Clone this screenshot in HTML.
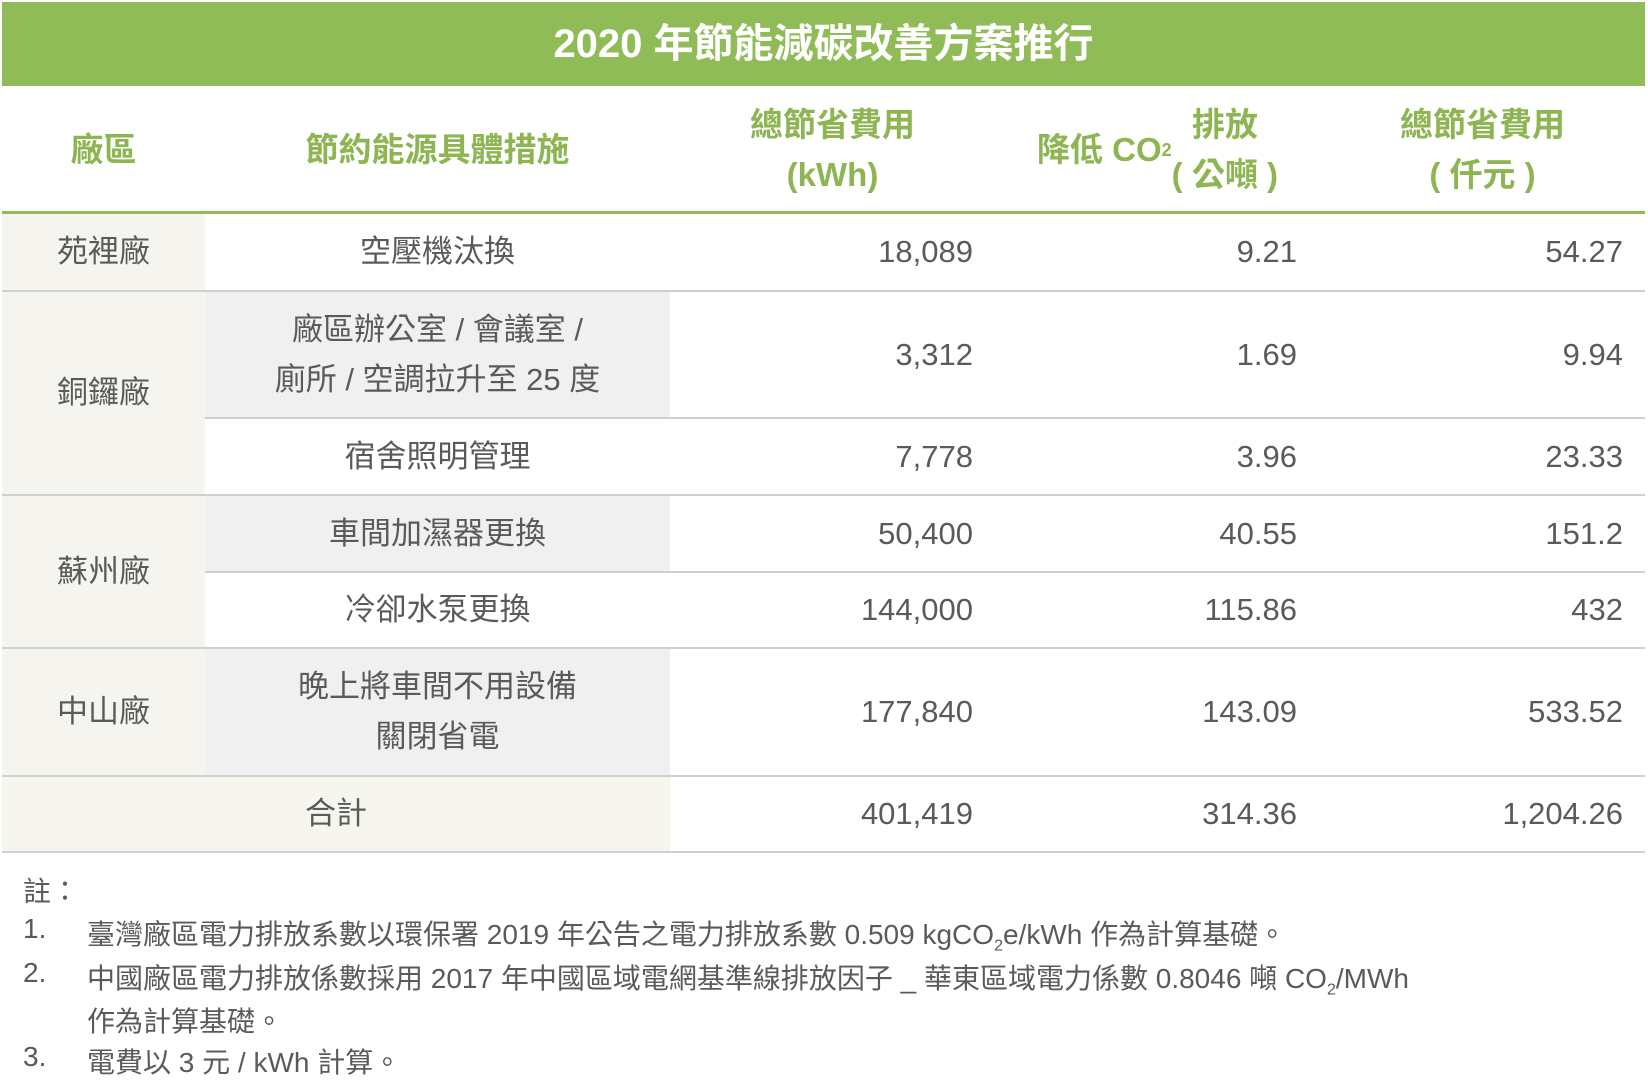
<!DOCTYPE html>
<html><head><meta charset="utf-8"><style>
body{margin:0;width:1648px;height:1086px;background:#fff;position:relative;overflow:hidden;font-family:"Liberation Sans","Noto Sans CJK TC",sans-serif;color:#5a5a5a}
.a{position:absolute}
.t{position:absolute;display:flex;align-items:center;justify-content:center;text-align:center;font-size:31px;line-height:50px}
.n{position:absolute;display:flex;align-items:center;justify-content:flex-end;font-size:31px}
.h{color:#8db552;font-weight:bold;font-size:33px;line-height:50px}
.l{position:absolute;height:2px;background:#d0d0d0}
.note{position:absolute;font-size:28px;white-space:nowrap}
</style></head><body>
<div class="a" style="left:2px;top:2px;width:1643px;height:84px;background:#8fbc56"></div>
<div class="t" style="left:2px;top:2px;width:1643px;height:84px;color:#fff;font-weight:bold;font-size:40px">2020 年節能減碳改善方案推行</div>

<div class="t h" style="left:2px;top:86px;width:203px;height:127px">廠區</div>
<div class="t h" style="left:205px;top:86px;width:465px;height:127px">節約能源具體措施</div>
<div class="t h" style="left:670px;top:86px;width:325px;height:127px">總節省費用<br>(kWh)</div>
<div class="t h" style="left:995px;top:86px;width:325px;height:127px">降低 CO<sub style="font-size:18px">2</sub> 排放<br>( 公噸 )</div>
<div class="t h" style="left:1320px;top:86px;width:325px;height:127px">總節省費用<br>( 仟元 )</div>
<div class="a" style="left:2px;top:211px;width:1643px;height:3px;background:#8fbc56"></div>

<!-- backgrounds -->
<div class="a" style="left:2px;top:214px;width:203px;height:562px;background:#f5f4ee"></div>
<div class="a" style="left:205px;top:292px;width:465px;height:126px;background:#f0f0f0"></div>
<div class="a" style="left:205px;top:496px;width:465px;height:76px;background:#f0f0f0"></div>
<div class="a" style="left:205px;top:649px;width:465px;height:127px;background:#f0f0f0"></div>
<div class="a" style="left:2px;top:777px;width:668px;height:75px;background:#f6f5ee"></div>

<div class="l" style="left:2px;top:290px;width:1643px"></div>
<div class="l" style="left:205px;top:417px;width:1440px"></div>
<div class="l" style="left:2px;top:494px;width:1643px"></div>
<div class="l" style="left:205px;top:571px;width:1440px"></div>
<div class="l" style="left:2px;top:647px;width:1643px"></div>
<div class="l" style="left:2px;top:775px;width:1643px"></div>
<div class="l" style="left:2px;top:851px;width:1643px"></div>

<div class="t" style="left:2px;top:214px;width:203px;height:76px">苑裡廠</div>
<div class="t" style="left:2px;top:292px;width:203px;height:202px">銅鑼廠</div>
<div class="t" style="left:2px;top:496px;width:203px;height:151px">蘇州廠</div>
<div class="t" style="left:2px;top:649px;width:203px;height:126px">中山廠</div>

<div class="t" style="left:205px;top:214px;width:465px;height:76px">空壓機汰換</div>
<div class="t" style="left:205px;top:292px;width:465px;height:125px">廠區辦公室 / 會議室 /<br>廁所 / 空調拉升至 25 度</div>
<div class="t" style="left:205px;top:419px;width:465px;height:75px">宿舍照明管理</div>
<div class="t" style="left:205px;top:496px;width:465px;height:75px">車間加濕器更換</div>
<div class="t" style="left:205px;top:573px;width:465px;height:74px">冷卻水泵更換</div>
<div class="t" style="left:205px;top:649px;width:465px;height:126px">晚上將車間不用設備<br>關閉省電</div>
<div class="t" style="left:2px;top:777px;width:668px;height:74px">合計</div>

<div id="nums"></div>

<div class="note" style="left:23px;top:870px">註：</div>
<div class="note" style="left:23px;top:913px">1.</div>
<div class="note" style="left:87px;top:913px">臺灣廠區電力排放系數以環保署 2019 年公告之電力排放系數 0.509 kgCO<sub style="font-size:16px">2</sub>e/kWh 作為計算基礎。</div>
<div class="note" style="left:23px;top:957px">2.</div>
<div class="note" style="left:87px;top:957px">中國廠區電力排放係數採用 2017 年中國區域電網基準線排放因子 _ 華東區域電力係數 0.8046 噸 CO<sub style="font-size:16px">2</sub>/MWh</div>
<div class="note" style="left:87px;top:1000px">作為計算基礎。</div>
<div class="note" style="left:23px;top:1041px">3.</div>
<div class="note" style="left:87px;top:1041px">電費以 3 元 / kWh 計算。</div>

<script>
const kwh=["18,089","3,312","7,778","50,400","144,000","177,840","401,419"];
const co2=["9.21","1.69","3.96","40.55","115.86","143.09","314.36"];
const cost=["54.27","9.94","23.33","151.2","432","533.52","1,204.26"];
const rowTop=[214,292,419,496,573,649,777];
const rowH=[76,125,75,75,74,126,74];
const colRight=[973,1297,1623];
const host=document.getElementById('nums');
[kwh,co2,cost].forEach((arr,c)=>{arr.forEach((v,r)=>{
 const d=document.createElement('div');
 d.className='n';
 
 
 d.style.left=(colRight[c]-300)+'px';d.style.width='300px';
 d.style.top=rowTop[r]+'px';d.style.height=rowH[r]+'px';
 d.textContent=v;host.appendChild(d);});});
</script>
</body></html>
